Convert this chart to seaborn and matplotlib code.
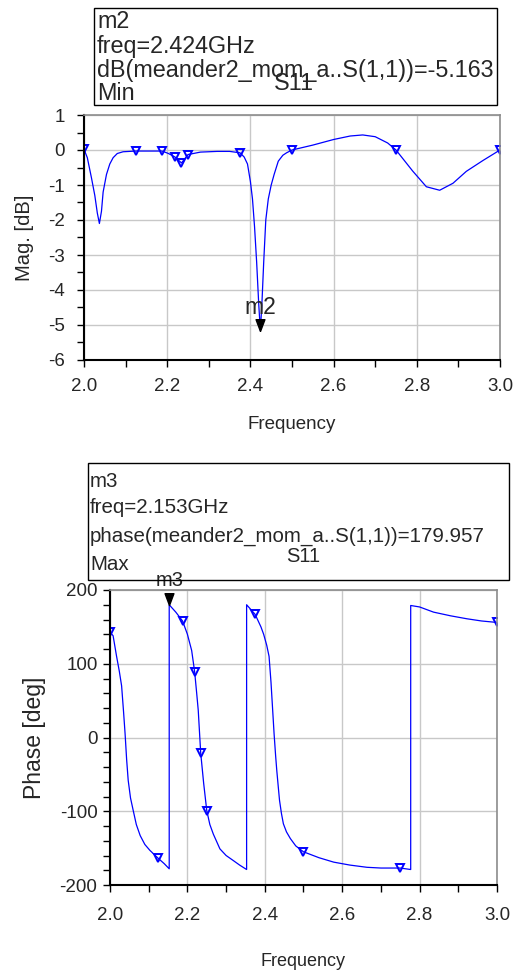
import numpy as np
import pandas as pd
import seaborn as sns
import matplotlib.pyplot as plt
from matplotlib.patches import Rectangle
from matplotlib.ticker import MultipleLocator

# S11 magnitude in dB
freq_db = [2.0, 2.008, 2.018, 2.026, 2.032, 2.037, 2.042, 2.046, 2.054, 2.062, 2.07, 2.08, 2.094,
           2.125, 2.1875, 2.203, 2.21875, 2.234375, 2.25, 2.28, 2.32, 2.35, 2.375, 2.385, 2.393,
           2.4, 2.405, 2.41, 2.415, 2.42, 2.424, 2.428, 2.432, 2.437, 2.443, 2.45, 2.457, 2.467,
           2.478, 2.487, 2.5, 2.55, 2.6, 2.64, 2.67, 2.7, 2.73, 2.75, 2.79, 2.823, 2.855, 2.887,
           2.919, 2.959, 3.0]
mag_db = [0.02, -0.22, -0.8, -1.3, -1.8, -2.1, -1.75, -1.2, -0.7, -0.4, -0.22, -0.1, -0.05,
          -0.03, -0.03, -0.1, -0.2, -0.37, -0.13, -0.06, -0.04, -0.04, -0.08, -0.2, -0.4,
          -0.9, -1.4, -2.2, -3.2, -4.4, -5.163, -4.3, -3.2, -2.0, -1.4, -1.0, -0.7, -0.32,
          -0.15, -0.08, 0.0, 0.14, 0.3, 0.4, 0.43, 0.38, 0.2, 0.0, -0.6, -1.05, -1.15, -0.95,
          -0.61, -0.3, 0.0]

# S11 phase in degrees (wraps at +/-180, repeated freq = vertical jump)
freq_ph = [2.0, 2.008, 2.017, 2.024, 2.03, 2.035, 2.039, 2.043, 2.047, 2.053, 2.06, 2.068, 2.078,
           2.09, 2.103, 2.125, 2.14, 2.153, 2.153, 2.17, 2.1875, 2.2, 2.211, 2.21875, 2.224,
           2.228, 2.234375, 2.242, 2.25, 2.258, 2.267, 2.284, 2.3, 2.319, 2.335, 2.353, 2.353,
           2.375, 2.39, 2.397, 2.405, 2.411, 2.416, 2.42, 2.424, 2.428, 2.431, 2.435, 2.438,
           2.443, 2.448, 2.456, 2.466, 2.48, 2.5, 2.54, 2.578, 2.62, 2.664, 2.7, 2.75, 2.777,
           2.777, 2.8, 2.836, 2.88, 2.922, 2.96, 3.0]
phase_deg = [143, 138, 110, 90, 70, 35, 5, -30, -58, -82, -99, -118, -133,
             -145, -153, -164, -171, -178, 179.96, 170, 158, 140, 118, 89, 60,
             37, -21, -62, -99, -118, -131, -151, -160, -167, -173, -179, 180,
             167, 150, 140, 125, 110, 75, 40, 5, -25, -45, -68, -85,
             -103, -117, -128, -137, -147, -155, -163, -169, -173, -176, -177, -177, -179,
             179, 177, 170, 165, 161, 158, 156]

# simulator sample points that carry the open triangle markers
mark_freq = [2.0, 2.125, 2.1875, 2.21875, 2.234375, 2.25, 2.375, 2.5, 2.75, 3.0]
mark_db = [0.02, -0.03, -0.03, -0.2, -0.37, -0.13, -0.08, 0.0, 0.0, 0.0]
mark_phase = [143, -164, 158, 89, -21, -99, 167, -155, -177, 156]

m2_freq, m2_db = 2.424, -5.163
m3_freq, m3_phase = 2.153, 179.957

sns.set_style('white')
plt.rcParams['font.family'] = ['Liberation Sans', 'DejaVu Sans']
plt.rcParams['axes.unicode_minus'] = False

W, H = 527, 974
fig = plt.figure(figsize=(W / 100, H / 100), dpi=100)


def fx(px):
    return px / W


def fy(py):
    return 1 - py / H


def axes_px(left, top, right, bottom):
    return fig.add_axes([fx(left), fy(bottom), fx(right) - fx(left), fy(top) - fy(bottom)])


blue = '#0000ff'
tip = [(0, 0), (-0.45, 1.2), (0.45, 1.2), (0, 0)]  # black marker, tip on the point


def style_axes(ax, ypad, xpad):
    ax.grid(True, which='major', color='#c8c8c8', lw=1)
    for s in ['left', 'bottom']:
        ax.spines[s].set_color('black')
        ax.spines[s].set_linewidth(1.5)
    for s in ['top', 'right']:
        ax.spines[s].set_color('#8c8c8c')
        ax.spines[s].set_linewidth(1.2)
    ax.xaxis.set_minor_locator(MultipleLocator(0.1))
    ax.tick_params(which='both', direction='out', length=5, width=1, color='black',
                   left=True, bottom=True, labelsize=13.5)
    ax.tick_params(axis='y', which='both', pad=ypad)
    ax.tick_params(axis='x', which='both', pad=xpad)
    ax.set_xlim(2.0, 3.0)
    ax.set_xticks(np.arange(2.0, 3.01, 0.2))
    ax.set_xticklabels(['2.0', '2.2', '2.4', '2.6', '2.8', '3.0'])


# ---- magnitude ----
ax1 = axes_px(84, 115, 500, 360)
df_db = pd.DataFrame({'freq': freq_db, 'db': mag_db})
sns.lineplot(data=df_db, x='freq', y='db', sort=False, estimator=None, color=blue, lw=0.9, ax=ax1)
ax1.plot(mark_freq, mark_db, ls='none', marker='v', ms=6, mfc='none', mec=blue, mew=1.4)
ax1.plot([m2_freq], [m2_db], ls='none', marker=tip, ms=17, color='black')
ax1.annotate('m2', (m2_freq, m2_db), xytext=(0, 17), textcoords='offset points',
             ha='center', va='center', fontsize=16.5)
ax1.set_ylim(-6, 1)
ax1.yaxis.set_major_locator(MultipleLocator(1))
ax1.yaxis.set_minor_locator(MultipleLocator(0.5))
style_axes(ax1, 9, 8)
ax1.set_xlabel('Frequency', fontsize=13.5)
ax1.set_ylabel('Mag. [dB]', fontsize=14.5)
ax1.xaxis.set_label_coords(0.5, -0.265)
ax1.xaxis.label.set_va('center')
ax1.yaxis.set_label_coords(-0.142, 0.5)
ax1.yaxis.label.set_va('center')

# ---- phase ----
ax2 = axes_px(110, 590, 497, 885)
df_ph = pd.DataFrame({'freq': freq_ph, 'phase': phase_deg})
sns.lineplot(data=df_ph, x='freq', y='phase', sort=False, estimator=None, color=blue, lw=0.9, ax=ax2)
ax2.plot(mark_freq, mark_phase, ls='none', marker='v', ms=6, mfc='none', mec=blue, mew=1.4)
ax2.plot([m3_freq], [m3_phase], ls='none', marker=tip, ms=17, color='black', clip_on=False)
ax2.annotate('m3', (m3_freq, m3_phase), xytext=(0, 17.5), textcoords='offset points',
             ha='center', va='center', fontsize=14.5)
ax2.set_ylim(-200, 200)
ax2.set_yticks([-200, -100, 0, 100, 200])
ax2.yaxis.set_minor_locator(MultipleLocator(20))
style_axes(ax2, 4, 11)
ax2.set_xlabel('Frequency', fontsize=13)
ax2.set_ylabel('Phase [deg]', fontsize=16.5)
ax2.xaxis.set_label_coords(0.5, -0.261)
ax2.xaxis.label.set_va('center')
ax2.yaxis.set_label_coords(-0.194, 0.5)
ax2.yaxis.label.set_va('center')

# ---- marker readout boxes ----
fig.patches.append(Rectangle((fx(94), fy(105)), fx(497) - fx(94), fy(8) - fy(105),
                             transform=fig.transFigure, fill=False, ec='black', lw=1))
for txt, base in zip(['m2', 'freq=2.424GHz', 'dB(meander2_mom_a..S(1,1))=-5.163', 'Min'],
                     [28, 53, 77, 100]):
    fig.text(fx(97), fy(base), txt, fontsize=16.8, ha='left', va='baseline')
fig.text(fx(294), fy(90), 'S11', fontsize=16.8, ha='center', va='baseline')

fig.patches.append(Rectangle((fx(88), fy(580)), fx(509) - fx(88), fy(463) - fy(580),
                             transform=fig.transFigure, fill=False, ec='black', lw=1))
for txt, base in zip(['m3', 'freq=2.153GHz', 'phase(meander2_mom_a..S(1,1))=179.957', 'Max'],
                     [487, 513, 542, 570]):
    fig.text(fx(90), fy(base), txt, fontsize=14.8, ha='left', va='baseline')
fig.text(fx(303), fy(562), 'S11', fontsize=14.5, ha='center', va='baseline')

fig.savefig('out.png', dpi=100)
